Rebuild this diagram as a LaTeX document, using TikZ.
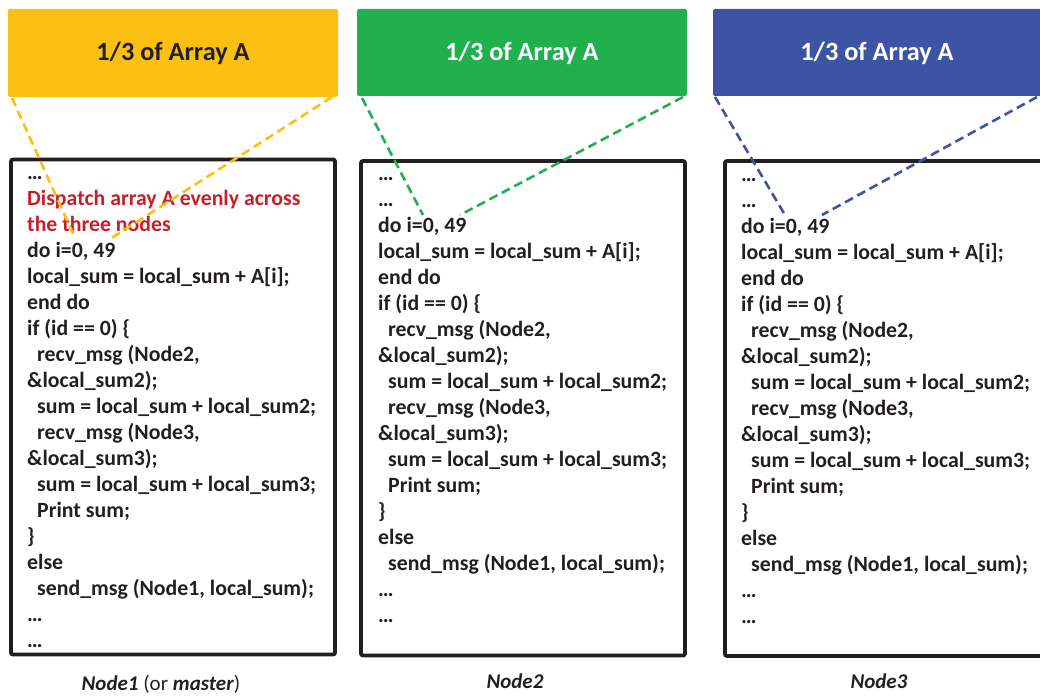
\documentclass[tikz,border=0pt]{standalone}
\usepackage{fontspec}
\setmainfont{Carlito}
\usetikzlibrary{calc}

\definecolor{partyellow}{RGB}{251,192,18}
\definecolor{partgreen}{RGB}{33,176,78}
\definecolor{partblue}{RGB}{61,84,165}
\definecolor{inkdark}{RGB}{35,31,32}
\definecolor{noteRed}{RGB}{196,32,44}

\newcommand\codeindent{\hspace*{10pt}}

\begin{document}
\begin{tikzpicture}[x=1pt,y=-1pt,
  parttext/.style={font=\fontsize{26.3}{30}\selectfont\bfseries},
  codebox/.style={draw=inkdark, line width=3.8pt, rounded corners=2pt},
  code/.style={anchor=base west, inner sep=0pt, text=inkdark,
    font=\fontsize{21.8}{26}\selectfont\bfseries},
  split/.style={dashed, line width=2.6pt, dash pattern=on 9pt off 5pt},
  caption/.style={anchor=base, inner sep=0pt, text=inkdark,
    font=\fontsize{21}{25}\selectfont}
]
\useasboundingbox (0,0) rectangle (1040,700);
\begin{scope}
\clip (0,0) rectangle (1040,700);

% slices of the array
\fill[partyellow, rounded corners=2pt] (8,9) rectangle (338,97);
\fill[partgreen, rounded corners=2pt] (357,9) rectangle (687,96);
\fill[partblue, rounded corners=2pt] (713,9) rectangle (1060,96);
\node[parttext, text=inkdark] (h1) at (173,53) {1/3 of Array A};
\node[parttext, text=white] (h2) at (522,53) {1/3 of Array A};
\node[parttext, text=white] (h3) at (877,53) {1/3 of Array A};

% program listings on each node
\draw[codebox] (11,159.5) rectangle (335,654.5);
\draw[codebox] (361,161) rectangle (685,655.5);
\draw[codebox] (725,161) rectangle (1060,656);

\foreach \t [count=\i from 0] in {
  …,
  {\textcolor{noteRed}{Dispatch array A evenly across}},
  {\textcolor{noteRed}{the three nodes}},
  {do i=0, 49},
  local\_sum = local\_sum + A[i];,
  end do,
  if (id == 0) \{,
  {\codeindent recv\_msg (Node2,},
  \&local\_sum2);,
  \codeindent sum = local\_sum + local\_sum2;,
  {\codeindent recv\_msg (Node3,},
  \&local\_sum3);,
  \codeindent sum = local\_sum + local\_sum3;,
  \codeindent Print sum;,
  \},
  else,
  {\codeindent send\_msg (Node1, local\_sum);},
  …,
  …}
  \node[code] (a\i) at (27,{180+\i*25.95}) {\t};

\foreach \t [count=\i from 0] in {
  …,
  …,
  {do i=0, 49},
  local\_sum = local\_sum + A[i];,
  end do,
  if (id == 0) \{,
  {\codeindent recv\_msg (Node2,},
  \&local\_sum2);,
  \codeindent sum = local\_sum + local\_sum2;,
  {\codeindent recv\_msg (Node3,},
  \&local\_sum3);,
  \codeindent sum = local\_sum + local\_sum3;,
  \codeindent Print sum;,
  \},
  else,
  {\codeindent send\_msg (Node1, local\_sum);},
  …,
  …}
  \node[code] (b\i) at (378,{181+\i*25.95}) {\t};

\foreach \t [count=\i from 0] in {
  …,
  …,
  {do i=0, 49},
  local\_sum = local\_sum + A[i];,
  end do,
  if (id == 0) \{,
  {\codeindent recv\_msg (Node2,},
  \&local\_sum2);,
  \codeindent sum = local\_sum + local\_sum2;,
  {\codeindent recv\_msg (Node3,},
  \&local\_sum3);,
  \codeindent sum = local\_sum + local\_sum3;,
  \codeindent Print sum;,
  \},
  else,
  {\codeindent send\_msg (Node1, local\_sum);},
  …,
  …}
  \node[code] (c\i) at (741,{182+\i*25.95}) {\t};

% where each slice lands in the loop
\coordinate (y1) at (12,98);   \coordinate (y2) at (332,97);
\coordinate (g1) at (362,98);  \coordinate (g2) at (683,97);
\coordinate (u1) at (715,97);  \coordinate (u2) at (1037,97);
\coordinate (yl) at (75,238);  \coordinate (yr) at (110,239);
\coordinate (gl) at (423,215); \coordinate (gr) at (460,215);
\coordinate (ul) at (785,215); \coordinate (ur) at (822,215);
\draw[split, partyellow] (y1) -- (yl);
\draw[split, partyellow] (y2) -- (yr);
\draw[split, partgreen] (g1) -- (gl);
\draw[split, partgreen] (g2) -- (gr);
\draw[split, partblue] (u1) -- (ul);
\draw[split, partblue] (u2) -- (ur);

% node captions
\node[caption] (l1) at (161,690) {\textbf{\textit{Node1}} (or \textbf{\textit{master}})};
\node[caption] (l2) at (515,688) {\textbf{\textit{Node2}}};
\node[caption] (l3) at (879,688) {\textbf{\textit{Node3}}};
\end{scope}
\end{tikzpicture}
\end{document}
